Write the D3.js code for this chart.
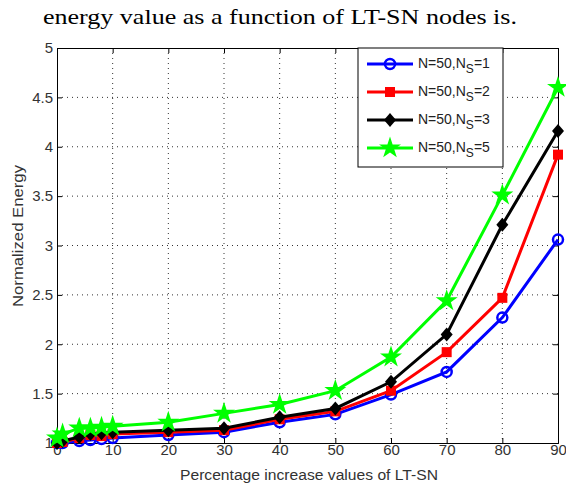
<!DOCTYPE html>
<html><head><meta charset="utf-8">
<script src="https://cdn.jsdelivr.net/npm/d3@7"></script>
<style>body{margin:0;background:#fff}svg{display:block}</style>
</head><body>
<script>
const xValues = [0, 1, 4, 6, 8, 10, 20, 30, 40, 50, 60, 70, 80, 90];
const ns1 = [1.00, 1.00, 1.02, 1.03, 1.04, 1.05, 1.08, 1.11, 1.21, 1.29, 1.49, 1.72, 2.27, 3.06];
const ns2 = [1.00, 1.01, 1.05, 1.08, 1.07, 1.09, 1.11, 1.13, 1.24, 1.32, 1.53, 1.92, 2.47, 3.92];
const ns3 = [1.00, 1.02, 1.06, 1.09, 1.10, 1.11, 1.13, 1.15, 1.26, 1.35, 1.62, 2.10, 3.21, 4.16];
const ns5 = [1.05, 1.09, 1.15, 1.15, 1.16, 1.17, 1.21, 1.30, 1.39, 1.53, 1.87, 2.44, 3.51, 4.60];
const seriesNames = ["1", "2", "3", "5"];
const xTicks = [0, 10, 20, 30, 40, 50, 60, 70, 80, 90];
const yTicks = [1, 1.5, 2, 2.5, 3, 3.5, 4, 4.5, 5];

const W = 566, H = 486;
const m = {l: 57, r: 558, t: 48, b: 443};
const svg = d3.select("body").append("svg").attr("width", W).attr("height", H);

svg.append("text").attr("x", 43).attr("y", 24).style("font-family", "'Liberation Serif', 'Times New Roman', Times, serif")
  .attr("font-size", 22).attr("fill", "#000").attr("textLength", 474).attr("lengthAdjust", "spacingAndGlyphs")
  .text("energy value as a function of LT-SN nodes is.");

const x = d3.scaleLinear().domain([0, 90]).range([m.l, m.r]);
const y = d3.scaleLinear().domain([1, 5]).range([m.b, m.t]);

// grid
const grid = svg.append("g");
grid.selectAll(".gx").data(xTicks.slice(1, -1)).join("line")
  .attr("x1", d => x(d)).attr("x2", d => x(d)).attr("y1", m.t).attr("y2", m.b)
  .attr("stroke", "#333").attr("stroke-width", 1).attr("stroke-dasharray", "1,4");
grid.selectAll(".gy").data(yTicks.slice(1, -1)).join("line")
  .attr("y1", d => y(d)).attr("y2", d => y(d)).attr("x1", m.l).attr("x2", m.r)
  .attr("stroke", "#333").attr("stroke-width", 1).attr("stroke-dasharray", "1,4");

// axes
const tickFont = "'Liberation Sans', Arial, sans-serif";
const ax = svg.append("g").attr("transform", `translate(0,${m.b})`)
  .call(d3.axisBottom(x).tickValues(xTicks).tickSize(-5).tickPadding(4));
const ay = svg.append("g").attr("transform", `translate(${m.l},0)`)
  .call(d3.axisLeft(y).tickValues(yTicks).tickSize(-5).tickPadding(4).tickFormat(d3.format("")));
const axT = svg.append("g").attr("transform", `translate(0,${m.t})`)
  .call(d3.axisTop(x).tickValues(xTicks).tickSize(-5).tickFormat(""));
const ayR = svg.append("g").attr("transform", `translate(${m.r},0)`)
  .call(d3.axisRight(y).tickValues(yTicks).tickSize(-5).tickFormat(""));
[ax, ay, axT, ayR].forEach(g => {
  g.select(".domain").attr("stroke", "#000").attr("stroke-width", 1);
  g.selectAll(".tick line").attr("stroke", "#000");
  g.selectAll("text").attr("font-family", tickFont).attr("font-size", 15).attr("fill", "#333");
});
ax.selectAll("text").attr("dy", "0.55em");

svg.append("text").attr("x", 309).attr("y", 480).attr("text-anchor", "middle")
  .attr("font-family", tickFont).attr("font-size", 14).attr("fill", "#333")
  .attr("textLength", 258).attr("lengthAdjust", "spacingAndGlyphs")
  .text("Percentage increase values of LT-SN");
svg.append("text").attr("transform", `translate(23,236) rotate(-90)`).attr("text-anchor", "middle")
  .attr("font-family", tickFont).attr("font-size", 14).attr("fill", "#333")
  .attr("textLength", 142).attr("lengthAdjust", "spacingAndGlyphs")
  .text("Normalized Energy");

const colors = ["#0000ff", "#ff0000", "#000000", "#00ff00"];
const data = [ns1, ns2, ns3, ns5];
const line = d3.line().x((d, i) => x(xValues[i])).y(d => y(d));

function marker(g, k, cx, cy) {
  const c = colors[k];
  if (k === 0) {
    g.append("circle").attr("cx", cx).attr("cy", cy).attr("r", 5).attr("fill", "none").attr("stroke", c).attr("stroke-width", 2.5);
  } else if (k === 1) {
    g.append("rect").attr("x", cx - 5).attr("y", cy - 5).attr("width", 10).attr("height", 10).attr("fill", c);
  } else if (k === 2) {
    g.append("path").attr("d", `M${cx},${cy - 7}L${cx + 6},${cy}L${cx},${cy + 7}L${cx - 6},${cy}Z`).attr("fill", c);
  } else {
    g.append("path").attr("transform", `translate(${cx},${cy})`)
      .attr("d", d3.symbol(d3.symbolStar, 150)()).attr("fill", c);
  }
}

const plot = svg.append("g");
data.forEach((s, k) => {
  const g = plot.append("g");
  g.append("path").datum(s).attr("d", line).attr("fill", "none").attr("stroke", colors[k]).attr("stroke-width", 3);
  s.forEach((v, i) => marker(g, k, x(xValues[i]), y(v)));
});

// legend
const lg = svg.append("g");
lg.append("rect").attr("x", 358).attr("y", 48).attr("width", 145).attr("height", 119)
  .attr("fill", "#fff").attr("stroke", "#000").attr("stroke-width", 1);
const rowsY = [64, 92, 120, 148];
seriesNames.forEach((n, k) => {
  const yy = rowsY[k];
  lg.append("line").attr("x1", 367).attr("x2", 413).attr("y1", yy).attr("y2", yy)
    .attr("stroke", colors[k]).attr("stroke-width", 3);
  marker(lg, k, 390, yy);
  const t = lg.append("text").attr("x", 418).attr("y", yy + 4).attr("font-family", tickFont)
    .attr("font-size", 14).attr("fill", "#222");
  t.append("tspan").text("N=50,N");
  t.append("tspan").attr("dy", 5).attr("font-size", 12).text("S");
  t.append("tspan").attr("dy", -5).text("=" + n);
});
</script>
</body></html>
